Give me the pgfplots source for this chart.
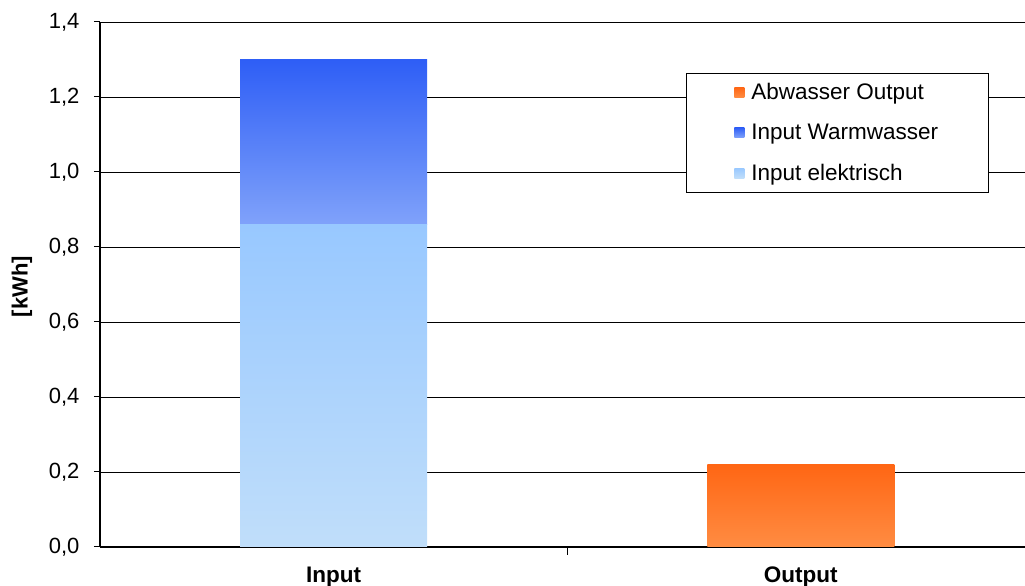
\documentclass[border=0pt]{standalone}
\usepackage{pgfplots}
\pgfplotsset{compat=1.18}
\usepackage{fontspec}
\setmainfont{Liberation Sans}

\definecolor{elTop}{RGB}{152,200,255}
\definecolor{elBot}{RGB}{192,222,250}
\definecolor{wwTop}{RGB}{46,94,246}
\definecolor{wwBot}{RGB}{128,162,250}
\definecolor{orTop}{RGB}{255,102,20}
\definecolor{orBot}{RGB}{255,140,66}

\begin{document}
\begin{tikzpicture}
\path[use as bounding box] (-100pt,-39pt) rectangle (925pt,547pt);
\begin{axis}[
  at={(0pt,0pt)}, anchor=south west,
  scale only axis,
  width=925pt, height=525pt,
  ybar stacked,
  bar width=187pt,
  xmin=-0.5, xmax=1.48,
  ymin=0, ymax=1.4,
  ytick={0,0.2,...,1.4},
  /pgf/number format/fixed,
  /pgf/number format/fixed zerofill,
  /pgf/number format/precision=1,
  /pgf/number format/use comma,
  /pgf/number format/assume math mode=true,
  yticklabel style={font=\fontsize{22}{25}\selectfont, xshift=-11pt},
  ymajorgrids,
  major grid style={black, line width=0.8pt},
  axis x line*=bottom,
  axis y line*=left,
  axis line style={black, line width=1.4pt, -},
  y tick style={black, line width=1pt},
  major tick length=6pt,
  tick align=outside,
  xtick={0,1},
  xticklabels={Input,Output},
  x tick style={draw=none},
  xticklabel style={font=\bfseries\fontsize{22.5}{26}\selectfont, yshift=-10pt},
  extra x ticks={0.5},
  extra x tick labels={},
  extra x tick style={grid=none, x tick style={draw=black, line width=1pt}, major tick length=8pt},
  ylabel={[kWh]},
  every axis y label/.style={at={(axis description cs:-0.0843,0.4962)}, rotate=90, anchor=center},
  ylabel style={font=\bfseries\fontsize{22}{26}\selectfont},
  reverse legend,
  legend style={
    at={(axis description cs:0.6335,0.9029)}, anchor=north west,
    draw=black, line width=0.8pt,
    font=\fontsize{22.5}{26}\selectfont,
    inner xsep=48pt, inner ysep=8pt,
    row sep=19pt,
    cells={anchor=west},
  },
  legend image code/.code={
    \path[#1, draw=none] (0pt,-5pt) rectangle (10pt,5pt);
    \path (15pt,0pt);
  },
]
% electrical input, base of the stack
\addplot[draw=none, top color=elTop, bottom color=elBot] coordinates {(0,0.86) (1,0)};
\addlegendentry{Input elektrisch}
% hot-water input on top
\addplot[draw=none, top color=wwTop, bottom color=wwBot] coordinates {(0,0.44) (1,0)};
\addlegendentry{Input Warmwasser}
% waste-water output
\addplot[draw=none, top color=orTop, bottom color=orBot] coordinates {(0,0) (1,0.22)};
\addlegendentry{Abwasser Output}
\end{axis}
\end{tikzpicture}
\end{document}
